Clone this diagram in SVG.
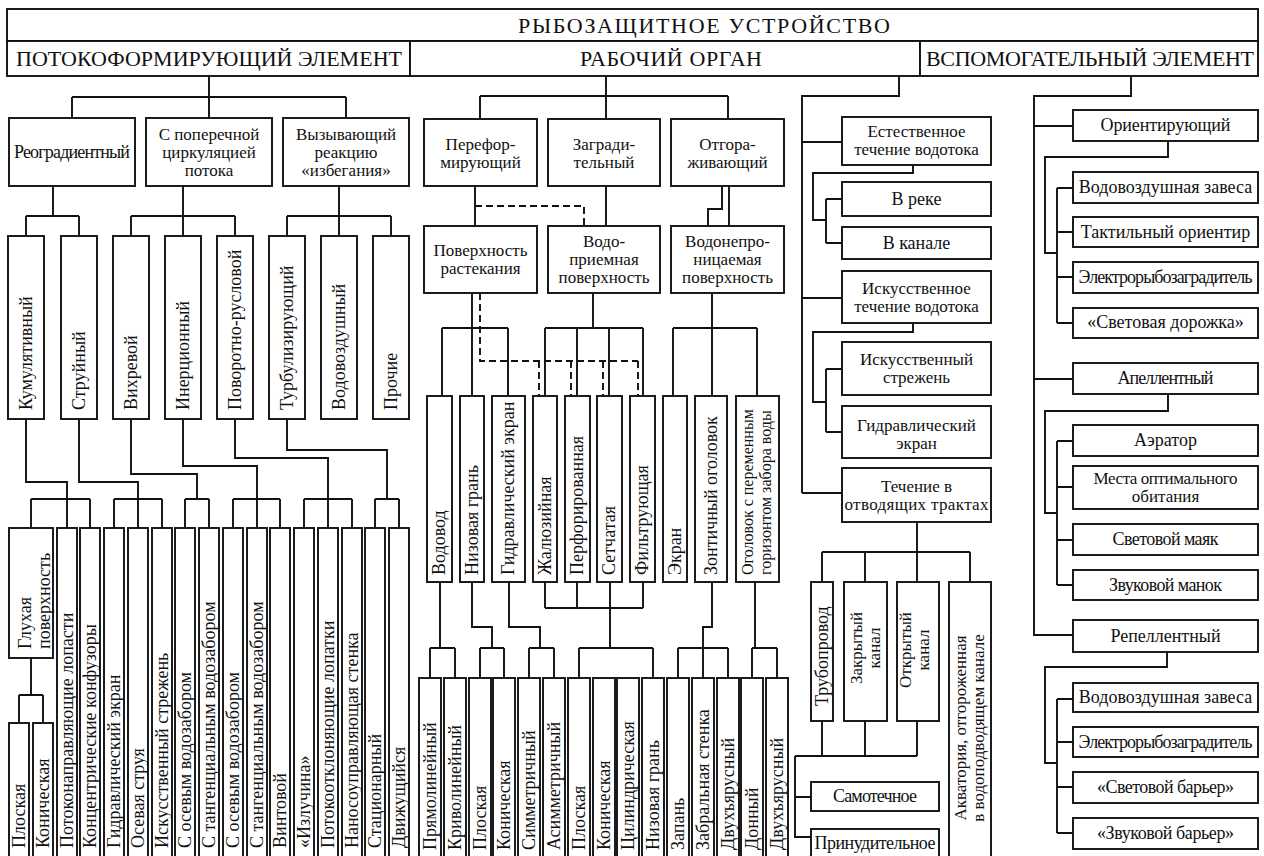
<svg xmlns="http://www.w3.org/2000/svg" width="1264" height="856" viewBox="0 0 1264 856" font-family="'Liberation Serif', 'DejaVu Serif', serif">
<style>
rect{fill:#fff;stroke:#111;stroke-width:1.9}
.c path{fill:none;stroke:#111;stroke-width:1.9}
.c path.d{stroke-dasharray:7 4}
text{font-family:'Liberation Serif','DejaVu Serif',serif;fill:#111;font-size:18px}
.h{font-size:22px}
.m{text-anchor:middle}
.s16{font-size:16px}
.s17{font-size:17px}
</style>
<rect x="0" y="0" width="1264" height="856" style="stroke:none;fill:#fff"/>
<g class="c" id="connectors">
<path d="M209,76V97M72,97H346M72,97V118M209,97V118M346,97V118"/>
<path d="M53,186V216M26,216H79M26,216V236M79,216V236"/>
<path d="M183,186V216M131,216H235M131,216V236M183,216V236M235,216V236"/>
<path d="M339,186V216M287,216H391M287,216V236M339,216V236M391,216V236"/>
<path d="M26,419V482H67V528M79,419V482H138V528M131,419V474H197V499M183,419V466H257V528M235,419V458H328V528M287,419V450H387V499"/>
<path d="M31,499H90M31,499V528M90,499V528M114,499H162M114,499V528M162,499V528M185,499H209M185,499V528M209,499V528M233,499H280M233,499V528M280,499V528M304,499H352M304,499V528M352,499V528M375,499H399M375,499V528M399,499V528"/>
<path d="M31,658V695M19,695H43M19,695V723M43,695V723"/>
<path d="M606,76V96M480,96H728M480,96V119M606,96V119M728,96V119"/>
<path d="M899,76V96H802V493"/>
<path d="M475,186V226M606,186V226M722,186V209H708V226M729,186V226"/>
<path class="d" d="M475,206H584V226"/>
<path d="M472,293V328M442,328H508M442,328V396M472,328V396M508,328V396"/>
<path class="d" d="M480,293V361H638M539,361V396M571,361V396M603,361V396M638,361V396"/>
<path d="M593,293V328M545,328H643M545,328V396M577,328V396M609,328V396M643,328V396"/>
<path d="M712,293V328M673,328H757M673,328V396M712,328V396M757,328V396"/>
<path d="M440,582V648M430,648H455M430,648V678M455,648V678"/>
<path d="M472,582V627H492V648M480,648H504M480,648V678M504,648V678"/>
<path d="M509,582V627H540V648M529,648H554M529,648V678M554,648V678"/>
<path d="M545,582V608M577,582V608M610,582V608M643,582V608M545,608H643M610,608V648M579,648H653M579,648V678M653,648V678"/>
<path d="M712,582V627H703V678M678,648H728M678,648V678M728,648V678"/>
<path d="M755,582V648M752,648H777M752,648V678M777,648V678"/>
<path d="M802,142H842M913,165V173H813V220H826M826,199V243M826,199H842M826,243H842"/>
<path d="M802,298H842M913,323V332H813V402H826M826,369V432M826,369H842M826,432H842"/>
<path d="M802,493H842M917,522V552M822,552H970M822,552V582M865,552V582M917,552V582M970,552V582"/>
<path d="M822,721V756M865,721V756M917,721V756M795,756H917M795,756V837H811M795,797H811"/>
<path d="M1131,76V96H1034V635H1073M1034,126H1073M1034,379H1073"/>
<path d="M1168,141V157H1045V253H1057M1057,188V323M1057,188H1073M1057,232H1073M1057,277H1073M1057,323H1073"/>
<path d="M1168,394V411H1045V513H1057M1057,441V585M1057,441H1073M1057,487H1073M1057,540H1073M1057,585H1073"/>
<path d="M1167,652V667H1045V763H1057M1057,699V833M1057,699H1073M1057,742H1073M1057,787H1073M1057,833H1073"/>
</g>
<g id="root"><rect x="7" y="9" width="1251" height="32"/><text class="h" x="518" y="33" textLength="372">РЫБОЗАЩИТНОЕ УСТРОЙСТВО</text></g>
<g id="n-flowformer"><rect x="7" y="41" width="403" height="35"/><text class="h" x="16" y="66" textLength="386">ПОТОКОФОРМИРУЮЩИЙ ЭЛЕМЕНТ</text></g>
<g id="n-work"><rect x="410" y="41" width="510" height="35"/><text class="h" x="580" y="66" textLength="182">РАБОЧИЙ ОРГАН</text></g>
<g id="n-aux"><rect x="920" y="41" width="338" height="35"/><text class="h" x="926" y="66" textLength="328">ВСПОМОГАТЕЛЬНЫЙ ЭЛЕМЕНТ</text></g>

<g id="n-reograd"><rect x="9" y="118" width="126" height="68"/><text class="m" x="72" y="158" textLength="116">Реоградиентный</text></g>
<g id="n-cross" class="s17"><rect x="146" y="118" width="126" height="68"/><text class="m s17" x="209" y="140">С поперечной</text><text class="m s17" x="209" y="158">циркуляцией</text><text class="m s17" x="209" y="176">потока</text></g>
<g id="n-avoid"><rect x="283" y="118" width="126" height="68"/><text class="m s17" x="346" y="140">Вызывающий</text><text class="m s17" x="346" y="158">реакцию</text><text class="m s17" x="346" y="176">«избегания»</text></g>

<g id="n-kum"><rect x="8" y="236" width="36" height="183"/><text transform="translate(31.5,410) rotate(-90)">Кумулятивный</text></g>
<g id="n-str"><rect x="61" y="236" width="36" height="183"/><text transform="translate(84.5,410) rotate(-90)">Струйный</text></g>
<g id="n-vikh"><rect x="113" y="236" width="36" height="183"/><text transform="translate(136.5,410) rotate(-90)">Вихревой</text></g>
<g id="n-iner"><rect x="165" y="236" width="36" height="183"/><text transform="translate(188.5,410) rotate(-90)">Инерционный</text></g>
<g id="n-povor"><rect x="217" y="236" width="36" height="183"/><text transform="translate(240.5,410) rotate(-90)">Поворотно-русловой</text></g>
<g id="n-turb"><rect x="269" y="236" width="36" height="183"/><text transform="translate(292.5,410) rotate(-90)">Турбулизирующий</text></g>
<g id="n-vodovozd"><rect x="321" y="236" width="36" height="183"/><text transform="translate(344.5,410) rotate(-90)">Водовоздушный</text></g>
<g id="n-proch"><rect x="373" y="236" width="36" height="183"/><text transform="translate(396.5,410) rotate(-90)">Прочие</text></g>

<g id="n-glukh"><rect x="9" y="528" width="44" height="130"/><text transform="translate(31,649) rotate(-90)">Глухая</text><text transform="translate(50,649) rotate(-90)">поверхность</text></g>
<g id="n-l-plosk"><rect x="9" y="723" width="20" height="140"/><text transform="translate(25,848) rotate(-90)">Плоская</text></g>
<g id="n-l-konich"><rect x="33" y="723" width="20" height="140"/><text transform="translate(49,848) rotate(-90)">Коническая</text></g>
<g id="n-l2"><rect x="57" y="528" width="20" height="335"/><text transform="translate(73,848) rotate(-90)">Потоконаправляющие лопасти</text></g>
<g id="n-l3"><rect x="80" y="528" width="20" height="335"/><text transform="translate(96,848) rotate(-90)">Концентрические конфузоры</text></g>
<g id="n-l4"><rect x="104" y="528" width="20" height="335"/><text transform="translate(120,848) rotate(-90)">Гидравлический экран</text></g>
<g id="n-l5"><rect x="128" y="528" width="20" height="335"/><text transform="translate(144,848) rotate(-90)">Осевая струя</text></g>
<g id="n-l6"><rect x="152" y="528" width="20" height="335"/><text transform="translate(168,848) rotate(-90)">Искусственный стрежень</text></g>
<g id="n-l7"><rect x="175" y="528" width="20" height="335"/><text transform="translate(191,848) rotate(-90)">С осевым водозабором</text></g>
<g id="n-l8"><rect x="199" y="528" width="20" height="335"/><text transform="translate(215,848) rotate(-90)">С тангенциальным водозабором</text></g>
<g id="n-l9"><rect x="223" y="528" width="20" height="335"/><text transform="translate(239,848) rotate(-90)">С осевым водозабором</text></g>
<g id="n-l10"><rect x="247" y="528" width="20" height="335"/><text transform="translate(263,848) rotate(-90)">С тангенциальным водозабором</text></g>
<g id="n-l11"><rect x="270" y="528" width="20" height="335"/><text transform="translate(286,848) rotate(-90)">Винтовой</text></g>
<g id="n-l12"><rect x="294" y="528" width="20" height="335"/><text transform="translate(310,848) rotate(-90)">«Излучина»</text></g>
<g id="n-l13"><rect x="318" y="528" width="20" height="335"/><text transform="translate(334,848) rotate(-90)">Потокоотклоняющие лопатки</text></g>
<g id="n-l14"><rect x="342" y="528" width="20" height="335"/><text transform="translate(358,848) rotate(-90)">Наносоуправляющая стенка</text></g>
<g id="n-l15"><rect x="365" y="528" width="20" height="335"/><text transform="translate(381,848) rotate(-90)">Стационарный</text></g>
<g id="n-l16"><rect x="389" y="528" width="20" height="335"/><text transform="translate(405,848) rotate(-90)">Движущийся</text></g>

<g id="n-perf"><rect x="424" y="119" width="113" height="67"/><text class="m s17" x="480.5" y="150">Перефор-</text><text class="m s17" x="480.5" y="168">мирующий</text></g>
<g id="n-zagr"><rect x="548" y="119" width="112" height="67"/><text class="m s17" x="604" y="150">Загради-</text><text class="m s17" x="604" y="168">тельный</text></g>
<g id="n-otgor"><rect x="671" y="119" width="113" height="67"/><text class="m s17" x="727.5" y="150">Отгора-</text><text class="m s17" x="727.5" y="168">живающий</text></g>
<g id="n-rastek"><rect x="424" y="226" width="113" height="67"/><text class="m s17" x="480.5" y="256">Поверхность</text><text class="m s17" x="480.5" y="274">растекания</text></g>
<g id="n-vodopr"><rect x="548" y="226" width="112" height="67"/><text class="m s17" x="604" y="247">Водо-</text><text class="m s17" x="604" y="265">приемная</text><text class="m s17" x="604" y="283">поверхность</text></g>
<g id="n-vodonepr"><rect x="671" y="226" width="113" height="67"/><text class="m s17" x="727.5" y="247">Водонепро-</text><text class="m s17" x="727.5" y="265">ницаемая</text><text class="m s17" x="727.5" y="283">поверхность</text></g>

<g id="n-m1"><rect x="427" y="396" width="25" height="186"/><text transform="translate(445,575) rotate(-90)">Водовод</text></g>
<g id="n-m2"><rect x="460" y="396" width="24" height="186"/><text transform="translate(477.5,575) rotate(-90)">Низовая грань</text></g>
<g id="n-m3"><rect x="492" y="396" width="33" height="186"/><text transform="translate(514,575) rotate(-90)">Гидравлический экран</text></g>
<g id="n-m4"><rect x="533" y="396" width="24" height="186"/><text transform="translate(550.5,575) rotate(-90)">Жалюзийная</text></g>
<g id="n-m5"><rect x="565" y="396" width="25" height="186"/><text transform="translate(583,575) rotate(-90)">Перфорированная</text></g>
<g id="n-m6"><rect x="597" y="396" width="25" height="186"/><text transform="translate(615,575) rotate(-90)">Сетчатая</text></g>
<g id="n-m7"><rect x="630" y="396" width="25" height="186"/><text transform="translate(648,575) rotate(-90)">Фильтрующая</text></g>
<g id="n-m8"><rect x="663" y="396" width="24" height="186"/><text transform="translate(680.5,575) rotate(-90)">Экран</text></g>
<g id="n-m9"><rect x="695" y="396" width="32" height="186"/><text transform="translate(716.5,575) rotate(-90)">Зонтичный оголовок</text></g>
<g id="n-m10"><rect x="736" y="396" width="43" height="186"/><text class="s16" transform="translate(753,575) rotate(-90)">Оголовок с переменным</text><text class="s16" transform="translate(771,575) rotate(-90)">горизонтом забора воды</text></g>

<g id="n-b1"><rect x="419" y="678" width="22" height="185"/><text transform="translate(436,850) rotate(-90)">Прямолинейный</text></g>
<g id="n-b2"><rect x="444" y="678" width="22" height="185"/><text transform="translate(461,850) rotate(-90)">Криволинейный</text></g>
<g id="n-b3"><rect x="469" y="678" width="22" height="185"/><text transform="translate(486,850) rotate(-90)">Плоская</text></g>
<g id="n-b4"><rect x="493" y="678" width="22" height="185"/><text transform="translate(510,850) rotate(-90)">Коническая</text></g>
<g id="n-b5"><rect x="518" y="678" width="22" height="185"/><text transform="translate(535,850) rotate(-90)">Симметричный</text></g>
<g id="n-b6"><rect x="543" y="678" width="22" height="185"/><text transform="translate(560,850) rotate(-90)">Асимметричный</text></g>
<g id="n-b7"><rect x="568" y="678" width="22" height="185"/><text transform="translate(585,850) rotate(-90)">Плоская</text></g>
<g id="n-b8"><rect x="593" y="678" width="22" height="185"/><text transform="translate(610,850) rotate(-90)">Коническая</text></g>
<g id="n-b9"><rect x="617" y="678" width="22" height="185"/><text transform="translate(634,850) rotate(-90)">Цилиндрическая</text></g>
<g id="n-b10"><rect x="642" y="678" width="22" height="185"/><text transform="translate(659,850) rotate(-90)">Низовая грань</text></g>
<g id="n-b11"><rect x="667" y="678" width="22" height="185"/><text transform="translate(684,850) rotate(-90)">Запань</text></g>
<g id="n-b12"><rect x="692" y="678" width="22" height="185"/><text transform="translate(709,850) rotate(-90)">Забральная стенка</text></g>
<g id="n-b13"><rect x="717" y="678" width="22" height="185"/><text transform="translate(734,850) rotate(-90)">Двухъярусный</text></g>
<g id="n-b14"><rect x="741" y="678" width="22" height="185"/><text transform="translate(758,850) rotate(-90)">Донный</text></g>
<g id="n-b15"><rect x="766" y="678" width="22" height="185"/><text transform="translate(783,850) rotate(-90)">Двухъярусный</text></g>

<g id="n-estest"><rect x="842" y="117" width="149" height="48"/><text class="m s17" x="916.5" y="137">Естественное</text><text class="m s17" x="916.5" y="155">течение водотока</text></g>
<g id="n-reka"><rect x="842" y="182" width="149" height="34"/><text class="m" x="916.5" y="205">В реке</text></g>
<g id="n-kanal"><rect x="842" y="227" width="149" height="32"/><text class="m" x="916.5" y="249">В канале</text></g>
<g id="n-iskus"><rect x="842" y="271" width="149" height="52"/><text class="m s17" x="916.5" y="294">Искусственное</text><text class="m s17" x="916.5" y="312">течение водотока</text></g>
<g id="n-strezh"><rect x="842" y="342" width="149" height="53"/><text class="m s17" x="916.5" y="365">Искусственный</text><text class="m s17" x="916.5" y="383">стрежень</text></g>
<g id="n-gidr"><rect x="842" y="406" width="149" height="52"/><text class="m s17" x="916.5" y="431">Гидравлический</text><text class="m s17" x="916.5" y="449">экран</text></g>
<g id="n-otvod"><rect x="842" y="468" width="149" height="54"/><text class="m s17" x="916.5" y="492">Течение в</text><text class="m s17" x="916.5" y="510" textLength="144">отводящих трактах</text></g>
<g id="n-trub"><rect x="811" y="582" width="22" height="139"/><text transform="translate(827.5,706) rotate(-90)">Трубопровод</text></g>
<g id="n-zakr"><rect x="844" y="582" width="43" height="139"/><text class="m s17" transform="translate(862,648) rotate(-90)">Закрытый</text><text class="m s17" transform="translate(880,648) rotate(-90)">канал</text></g>
<g id="n-otkr"><rect x="897" y="582" width="42" height="139"/><text class="m s17" transform="translate(911,650) rotate(-90)">Открытый</text><text class="m s17" transform="translate(929,650) rotate(-90)">канал</text></g>
<g id="n-akv"><rect x="949" y="582" width="42" height="281"/><text class="m s17" transform="translate(966,728) rotate(-90)">Акватория, отгороженная</text><text class="m s17" transform="translate(984,728) rotate(-90)">в водоподводящем канале</text></g>
<g id="n-samot"><rect x="811" y="782" width="128" height="29"/><text class="m" x="875" y="802" textLength="84">Самотечное</text></g>
<g id="n-prin"><rect x="811" y="829" width="128" height="34"/><text class="m" x="875" y="849" textLength="121">Принудительное</text></g>

<g id="n-orient"><rect x="1073" y="110" width="185" height="31"/><text class="m" x="1165.5" y="131" textLength="130">Ориентирующий</text></g>
<g id="n-o1"><rect x="1073" y="172" width="185" height="31"/><text class="m" x="1165.5" y="193">Водовоздушная завеса</text></g>
<g id="n-o2"><rect x="1073" y="217" width="185" height="30"/><text class="m" x="1165.5" y="238">Тактильный ориентир</text></g>
<g id="n-o3"><rect x="1073" y="262" width="185" height="31"/><text class="m" x="1165.5" y="283" textLength="174">Электрорыбозаградитель</text></g>
<g id="n-o4"><rect x="1073" y="308" width="185" height="30"/><text class="m" x="1165.5" y="328">«Световая дорожка»</text></g>
<g id="n-apel"><rect x="1073" y="363" width="185" height="31"/><text class="m" x="1165.5" y="384" textLength="96">Апеллентный</text></g>
<g id="n-a1"><rect x="1073" y="425" width="185" height="31"/><text class="m" x="1165.5" y="446">Аэратор</text></g>
<g id="n-a2"><rect x="1073" y="466" width="185" height="43"/><text class="m s17" x="1165.5" y="484" textLength="144">Места оптимального</text><text class="m s17" x="1165.5" y="502">обитания</text></g>
<g id="n-a3"><rect x="1073" y="524" width="185" height="31"/><text class="m" x="1165.5" y="545" textLength="106">Световой маяк</text></g>
<g id="n-a4"><rect x="1073" y="570" width="185" height="30"/><text class="m" x="1165.5" y="591" textLength="113">Звуковой манок</text></g>
<g id="n-repel"><rect x="1073" y="620" width="185" height="32"/><text class="m" x="1165.5" y="642">Репеллентный</text></g>
<g id="n-r1"><rect x="1073" y="683" width="185" height="29"/><text class="m" x="1165.5" y="703">Водовоздушная завеса</text></g>
<g id="n-r2"><rect x="1073" y="727" width="185" height="30"/><text class="m" x="1165.5" y="748" textLength="174">Электрорыбозаградитель</text></g>
<g id="n-r3"><rect x="1073" y="772" width="185" height="31"/><text class="m" x="1165.5" y="793" textLength="137">«Световой барьер»</text></g>
<g id="n-r4"><rect x="1073" y="818" width="185" height="31"/><text class="m" x="1165.5" y="839" textLength="137">«Звуковой барьер»</text></g>
</svg>
